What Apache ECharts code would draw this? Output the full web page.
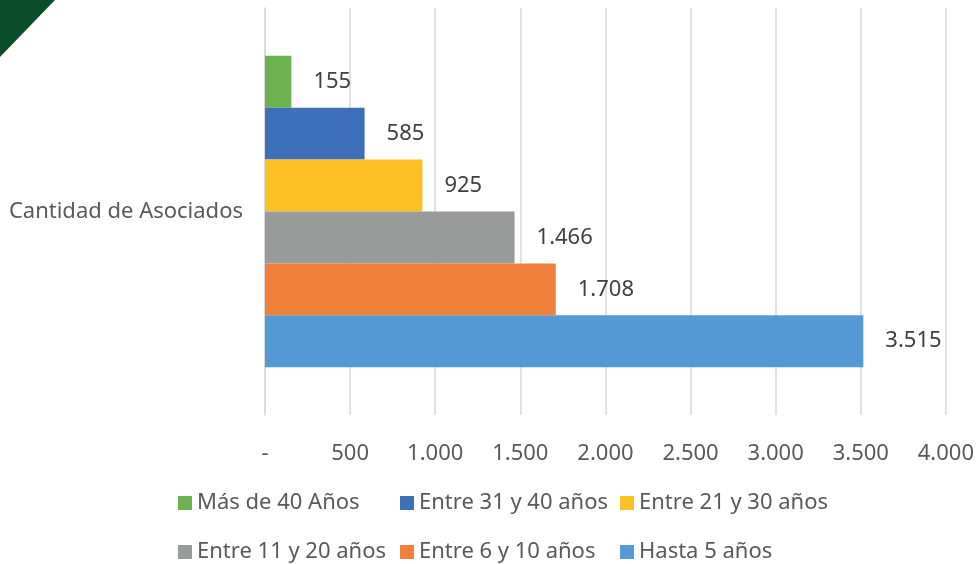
<!DOCTYPE html>
<html>
<head>
<meta charset="utf-8">
<script src="https://cdn.jsdelivr.net/npm/echarts@6/dist/echarts.min.js"></script>
<style>
  html, body { margin: 0; padding: 0; background: #fff; }
  #chart { width: 977px; height: 564px; }
</style>
</head>
<body>
<div id="chart"></div>
<script>
// Asociados por antigüedad
const categories = ['Cantidad de Asociados'];
const seriesNames = ['Más de 40 Años', 'Entre 31 y 40 años', 'Entre 21 y 30 años',
                     'Entre 11 y 20 años', 'Entre 6 y 10 años', 'Hasta 5 años'];
const seriesValues = [155, 585, 925, 1466, 1708, 3515];
const seriesColors = ['#6DB150', '#3D70B8', '#FDBF26', '#999B9B', '#EF813A', '#5499D4'];
const tickValues = [0, 500, 1000, 1500, 2000, 2500, 3000, 3500, 4000];

const FONT = '"Noto Sans", sans-serif';
const TEXT = '#595959';
const FS = 22;

function fmt(v) {
  if (v === 0) return '-';
  return String(Math.round(v)).replace(/\B(?=(\d{3})+(?!\d))/g, '.');
}

const chart = echarts.init(document.getElementById('chart'), null, { renderer: 'canvas' });

// two legend rows of three items, each item placed in its own column
const legendSlots = [
  { left: 178, top: 492 }, { left: 400, top: 492 }, { left: 620, top: 492 },
  { left: 178, top: 541 }, { left: 400, top: 541 }, { left: 620, top: 541 }
];

const legends = seriesNames.map((name, i) => ({
  data: [name],
  left: legendSlots[i].left,
  top: legendSlots[i].top,
  padding: 0,
  orient: 'horizontal',
  itemWidth: 14,
  itemHeight: 14,
  itemGap: 0,
  icon: 'rect',
  selectedMode: false,
  textStyle: { color: TEXT, fontFamily: FONT, fontSize: FS }
}));

chart.setOption({
  animation: false,
  backgroundColor: '#fff',
  grid: { left: 265, right: 31, top: 8, bottom: 149, containLabel: false },
  legend: legends,
  xAxis: {
    type: 'value',
    min: 0,
    max: 4000,
    interval: 500,
    axisLine: { show: false },
    axisTick: { show: false },
    splitLine: { show: true, lineStyle: { color: '#D9D9D9', width: 1.5 } },
    axisLabel: {
      color: TEXT, fontFamily: FONT, fontSize: FS, margin: 28,
      formatter: fmt
    }
  },
  yAxis: {
    type: 'category',
    data: categories,
    axisLine: { show: true, lineStyle: { color: '#D9D9D9', width: 1.5 } },
    axisTick: { show: false },
    axisLabel: { color: TEXT, fontFamily: FONT, fontSize: FS, margin: 22 }
  },
  graphic: [{
    type: 'polygon',
    shape: { points: [[0, 0], [55, 0], [0, 57]] },
    style: { fill: '#0B4D2A' },
    silent: true
  }],
  series: seriesNames.map((name, i) => ({
    name: name,
    type: 'bar',
    data: [seriesValues[i]],
    barGap: '0%',
    barCategoryGap: '23.5%',
    itemStyle: { color: seriesColors[i] },
    label: {
      show: true,
      position: 'right',
      distance: 22,
      color: '#404040',
      fontFamily: FONT,
      fontSize: FS,
      formatter: p => fmt(p.value)
    }
  }))
});
</script>
</body>
</html>
